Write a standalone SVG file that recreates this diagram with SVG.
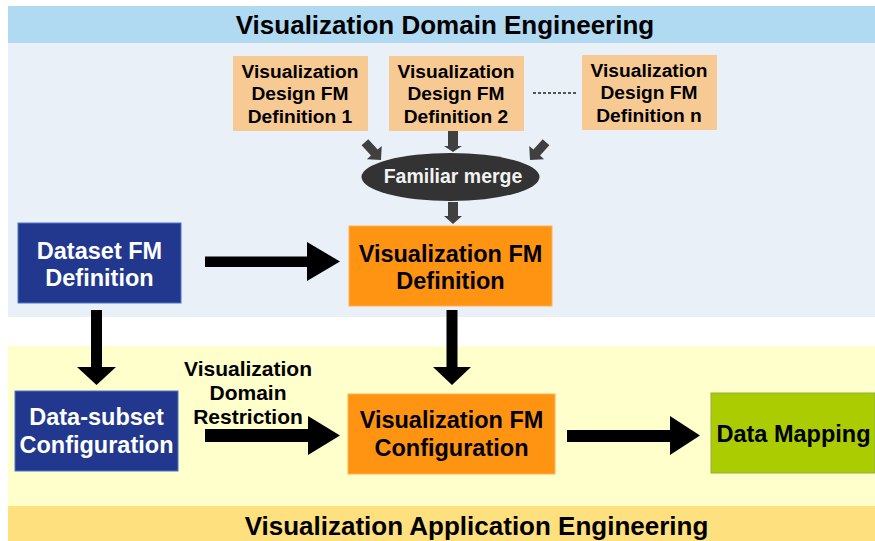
<svg xmlns="http://www.w3.org/2000/svg" width="875" height="541" viewBox="0 0 875 541">
<style>
text{font-family:"Liberation Sans",Arial,sans-serif;font-weight:bold;text-anchor:middle}
.title{font-size:26px;fill:#000}
.small{font-size:19.2px;fill:#000}
.big{font-size:23.5px}
.w{fill:#fff}
.k{fill:#000}
.peach{fill:#F8CA93}
.blue{fill:#22388E;stroke:#4F74C8;stroke-width:1}
.orange{fill:#FF9412;stroke:#FFB050;stroke-width:1}
.green{fill:#AACC00;stroke:#8FB040;stroke-width:1}
.ga{fill:#404040}
.ba{fill:#000}
</style>
<rect x="0" y="0" width="875" height="541" fill="#fff"/>
<g id="bands">
<rect x="8" y="6" width="867" height="37" fill="#B0D9F2"/>
<rect x="8" y="43" width="867" height="274" fill="#EAF0F8"/>
<rect x="8" y="346" width="867" height="160" fill="#FFFFCC"/>
<rect x="8" y="506" width="867" height="35" fill="#FFE07F"/>
<text class="title" x="445" y="34">Visualization Domain Engineering</text>
<text class="title" x="476.5" y="535">Visualization Application Engineering</text>
</g>
<g id="vdfm1">
<rect class="peach" x="233" y="56" width="135" height="75"/>
<text class="small" x="300" y="78">Visualization</text>
<text class="small" x="300" y="100">Design FM</text>
<text class="small" x="300" y="122.5">Definition 1</text>
</g>
<g id="vdfm2">
<rect class="peach" x="389" y="56" width="135" height="75"/>
<text class="small" x="456" y="78">Visualization</text>
<text class="small" x="456" y="100">Design FM</text>
<text class="small" x="456" y="122.5">Definition 2</text>
</g>
<g id="vdfmn">
<rect class="peach" x="582" y="55" width="135" height="75"/>
<text class="small" x="649" y="77">Visualization</text>
<text class="small" x="649" y="99">Design FM</text>
<text class="small" x="649" y="121.5">Definition n</text>
</g>
<g id="merge">
<ellipse cx="450.5" cy="177" rx="89" ry="24" fill="#333333"/>
<text x="453" y="183" style="font-size:19.5px;fill:#F2F2F2">Familiar merge</text>
</g>
<g id="dataset">
<rect class="blue" x="18" y="223" width="163" height="80"/>
<text class="big w" x="99.5" y="259">Dataset FM</text>
<text class="big w" x="99.5" y="286">Definition</text>
</g>
<g id="vizdef">
<rect class="orange" x="349" y="226" width="203" height="80"/>
<text class="big k" x="450.5" y="262">Visualization FM</text>
<text class="big k" x="450.5" y="289">Definition</text>
</g>
<g id="subset">
<rect class="blue" x="15" y="391" width="163" height="80"/>
<text class="big w" x="96.5" y="425">Data-subset</text>
<text class="big w" x="96.5" y="452.5">Configuration</text>
</g>
<g id="vizconf">
<rect class="orange" x="348" y="394" width="207" height="80"/>
<text class="big k" x="451.5" y="428">Visualization FM</text>
<text class="big k" x="451.5" y="456">Configuration</text>
</g>
<g id="mapping">
<rect class="green" x="711" y="393" width="164" height="80"/>
<text class="big k" x="793.5" y="442">Data Mapping</text>
</g>
<g id="connectors">
<line x1="533" y1="93" x2="576" y2="93" stroke="#222" stroke-width="1.5" stroke-dasharray="3,2"/>
<polygon class="ga" points="448,131 458,131 458,146 462,146 453,152 444,146 448,146"/>
<polygon class="ga" points="448,202 458,202 458,216 462,216 453,224 444,216 448,216"/>
<polygon class="ga" transform="translate(381,160) rotate(48)" points="-24,-4.5 -10,-4.5 -10,-10 0,0 -10,10 -10,4.5 -24,4.5"/>
<polygon class="ga" transform="translate(530,160) rotate(132)" points="-24,-4.5 -10,-4.5 -10,-10 0,0 -10,10 -10,4.5 -24,4.5"/>
<polygon class="ba" points="205,256.5 307,256.5 307,242 340,261.5 307,281 307,267 205,267"/>
<polygon class="ba" points="205,429 308,429 308,416 340,435.5 308,455 308,442 205,442"/>
<polygon class="ba" points="567,430 670,430 670,416 700,435.5 670,455 670,442 567,442"/>
<polygon class="ba" points="91,310 102,310 102,367 116,367 96.5,385 77,367 91,367"/>
<polygon class="ba" points="446.5,310 457.5,310 457.5,367 471,367 452,385 433,367 446.5,367"/>
<text class="k" x="248" y="376" style="font-size:21px">Visualization</text>
<text class="k" x="248" y="399.5" style="font-size:21px">Domain</text>
<text class="k" x="248" y="423.5" style="font-size:21px">Restriction</text>
</g>
</svg>
